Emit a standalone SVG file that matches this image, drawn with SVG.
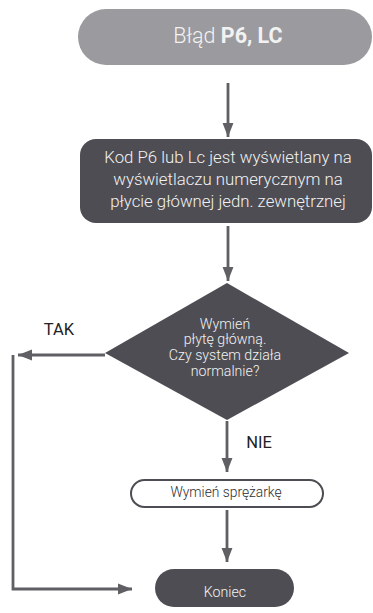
<svg xmlns="http://www.w3.org/2000/svg" width="373" height="613" viewBox="0 0 373 613">
<defs>
<style>
text{font-family:Roboto,"Liberation Sans",Arial,sans-serif;font-weight:300;text-anchor:middle}
.lt{fill:#f2f2f2}
.dk{fill:#2e2e32}
.lbl{fill:#222226;font-weight:400}
.dark{fill:#4e4d53}
.conn{fill:none;stroke:#5f5f64;stroke-width:2.8}
</style>
<marker id="ah" markerUnits="userSpaceOnUse" markerWidth="14" markerHeight="18" viewBox="0 0 18 14" refX="18" refY="7" orient="auto">
<path d="M0,0 L18,7 L0,14 Z" fill="#5f5f64"/>
</marker>
</defs>
<rect width="373" height="613" fill="#ffffff"/>
<g id="connectors">
<line class="conn" x1="228" y1="83" x2="228" y2="137" marker-end="url(#ah)"/>
<line class="conn" x1="228" y1="226" x2="228" y2="281" marker-end="url(#ah)"/>
<line class="conn" x1="105" y1="355" x2="18" y2="355" marker-end="url(#ah)"/>
<polyline class="conn" points="13,355 13,589 132,589" marker-end="url(#ah)"/>
<line class="conn" x1="227" y1="421" x2="227" y2="472" marker-end="url(#ah)"/>
<line class="conn" x1="227" y1="510" x2="227" y2="562" marker-end="url(#ah)"/>
</g>
<g id="start">
<rect x="78" y="9" width="294" height="56" rx="28" fill="#9b9a9f"/>
<text x="228" y="43" font-size="21.5" class="lt">Błąd <tspan font-weight="bold">P6, LC</tspan></text>
</g>
<g id="info">
<rect x="80" y="139" width="292" height="84" rx="16" class="dark"/>
<text x="228" y="163" font-size="16.8" class="lt">Kod P6 lub Lc jest wyświetlany na</text>
<text x="228" y="185" font-size="16.8" class="lt">wyświetlaczu numerycznym na</text>
<text x="228" y="207" font-size="16.8" class="lt">płycie głównej jedn. zewnętrznej</text>
</g>
<g id="decision">
<polygon points="227,283 349,353 227,420 105,353" class="dark"/>
<text x="225" y="329" font-size="14.2" class="lt">Wymień</text>
<text x="225" y="344" font-size="14.2" class="lt">płytę główną.</text>
<text x="225" y="360" font-size="14.2" class="lt">Czy system działa</text>
<text x="225" y="376" font-size="14.2" class="lt">normalnie?</text>
</g>
<g id="label-tak">
<text x="59" y="335" font-size="16.5" class="lbl">TAK</text>
</g>
<g id="label-nie">
<text x="259" y="448" font-size="16.5" class="lbl">NIE</text>
</g>
<g id="compressor">
<rect x="131" y="480" width="192" height="27" rx="13.5" fill="#ffffff" stroke="#4e4d53" stroke-width="2"/>
<text x="226" y="497" font-size="13.8" class="dk">Wymień sprężarkę</text>
</g>
<g id="end">
<rect x="155" y="569" width="139" height="38" rx="19" class="dark"/>
<text x="225" y="597" font-size="14.2" class="lt">Koniec</text>
</g>
</svg>
